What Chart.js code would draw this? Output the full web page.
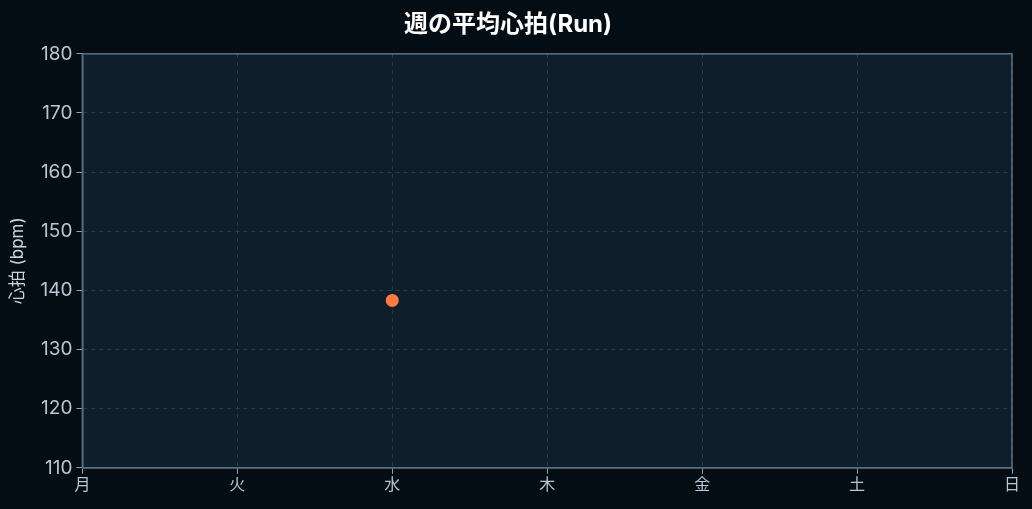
<!DOCTYPE html>
<html>
<head>
<meta charset="utf-8">
<script src="https://cdn.jsdelivr.net/npm/chart.js@4"></script>
<style>
  html, body { margin: 0; padding: 0; background: #050d14; }
  #wrap { width: 1032px; height: 509px; position: relative; }
</style>
</head>
<body>
<div id="wrap"><canvas id="hrChart"></canvas></div>
<script>
const dayLabels = ['月', '火', '水', '木', '金', '土', '日'];
const avgHeartRate = [null, null, 138.3, null, null, null, null];
const yTicks = [110, 120, 130, 140, 150, 160, 170, 180];

const fontFamily = "Inter, 'Noto Sans CJK JP', sans-serif";

// plot area background + frame
const areaBg = {
    id: 'areaBg',
    beforeDraw(chart) {
        const { ctx, chartArea: a } = chart;
        ctx.save();
        ctx.fillStyle = '#0f1e2b';
        ctx.fillRect(a.left, a.top, a.right - a.left, a.bottom - a.top);
        ctx.restore();
    },
    afterDatasetsDraw(chart) {
        const { ctx, chartArea: a } = chart;
        ctx.save();
        ctx.strokeStyle = '#5d6f7e';
        ctx.lineWidth = 1.5;
        ctx.strokeRect(a.left, a.top, a.right - a.left, a.bottom - a.top);
        ctx.restore();
    }
};

const hrChart = new Chart(document.getElementById('hrChart'), {
    type: 'line',
    data: {
        labels: dayLabels,
        datasets: [{
            label: '平均心拍',
            data: avgHeartRate,
            borderColor: '#ff7a3d',
            backgroundColor: '#ff7a3d',
            pointRadius: 5.5,
            pointHoverRadius: 6,
            borderWidth: 2,
            spanGaps: false,
            fill: false
        }]
    },
    options: {
        responsive: true,
        maintainAspectRatio: false,
        animation: false,
        layout: { padding: { left: 4, right: 20, top: 0, bottom: 12 } },
        plugins: {
            legend: { display: false },
            tooltip: { enabled: false },
            title: {
                display: true,
                text: '週の平均心拍(Run)',
                color: '#ffffff',
                font: { family: fontFamily, size: 24, weight: 'bold' },
                padding: { top: 10, bottom: 15 }
            }
        },
        scales: {
            x: {
                offset: false,
                grid: {
                    color: '#2a3b4a',
                    borderDash: [4, 4],
                    tickBorderDash: [],
                    tickColor: '#8fa2b2',
                    tickLength: 6
                },
                border: { color: '#5d6f7e', width: 1.5, dash: [4, 4] },
                ticks: {
                    color: '#b7c6d2',
                    font: { family: fontFamily, size: 16 },
                    padding: 2
                }
            },
            y: {
                min: 110,
                max: 180,
                afterBuildTicks(axis) {
                    axis.ticks = yTicks.map(v => ({ value: v }));
                },
                grid: {
                    color: '#2a3b4a',
                    tickColor: '#8fa2b2',
                    tickLength: 6
                },
                border: { color: '#5d6f7e', width: 1.5, dash: [4, 4] },
                ticks: {
                    color: '#b7c6d2',
                    font: { family: fontFamily, size: 19 },
                    padding: 4
                },
                title: {
                    display: true,
                    text: '心拍 (bpm)',
                    color: '#c9d5de',
                    font: { family: fontFamily, size: 17 },
                    padding: { bottom: 8 }
                }
            }
        }
    },
    plugins: [areaBg]
});
</script>
</body>
</html>
